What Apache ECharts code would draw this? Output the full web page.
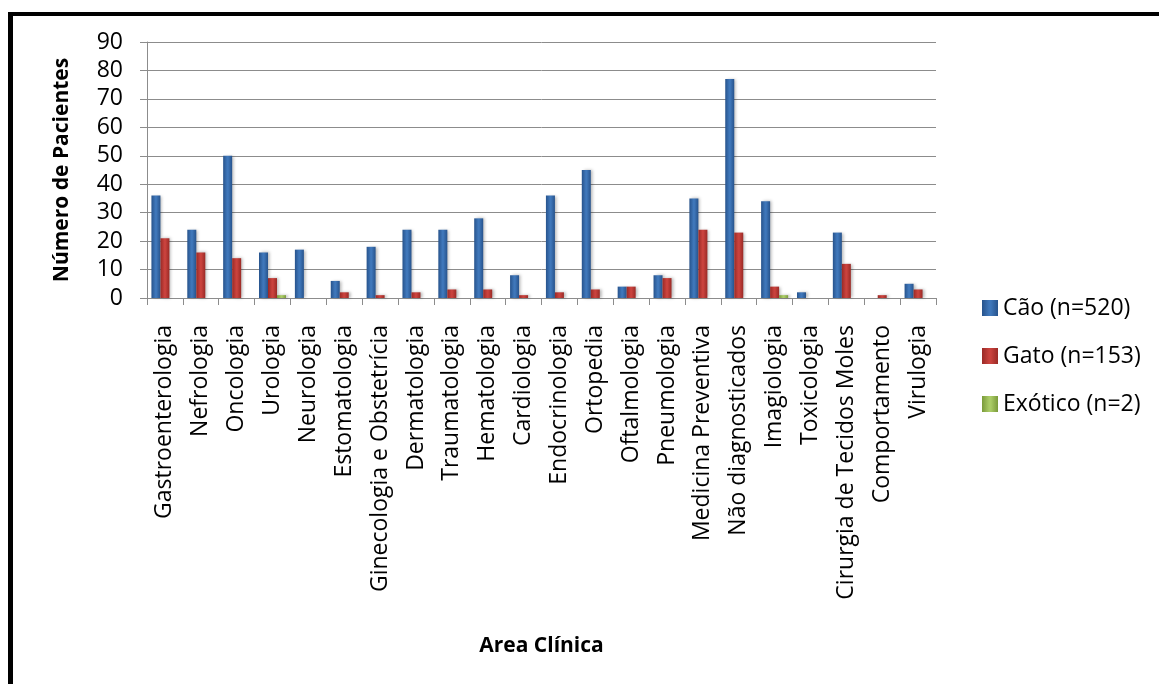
<!DOCTYPE html>
<html>
<head>
<meta charset="utf-8">
<script src="https://cdn.jsdelivr.net/npm/echarts@6/dist/echarts.min.js"></script>
<style>
  html, body { margin: 0; padding: 0; background: #ffffff; }
  #chart { width: 1159px; height: 684px; }
</style>
</head>
<body>
<div id="chart"></div>
<script>
// Clinical areas (x axis)
const categories = [
  'Gastroenterologia', 'Nefrologia', 'Oncologia', 'Urologia', 'Neurologia',
  'Estomatologia', 'Ginecologia e Obstetrícia', 'Dermatologia', 'Traumatologia',
  'Hematologia', 'Cardiologia', 'Endocrinologia', 'Ortopedia', 'Oftalmologia',
  'Pneumologia', 'Medicina Preventiva', 'Não diagnosticados', 'Imagiologia',
  'Toxicologia', 'Cirurgia de Tecidos Moles', 'Comportamento', 'Virulogia'
];

// Patients per clinical area, by species
const caoValues     = [36, 24, 50, 16, 17, 6, 18, 24, 24, 28, 8, 36, 45, 4, 8, 35, 77, 34, 2, 23, 0, 5];
const gatoValues    = [21, 16, 14, 7, 0, 2, 1, 2, 3, 3, 1, 2, 3, 4, 7, 24, 23, 4, 0, 12, 1, 3];
const exoticoValues = [0, 0, 0, 1, 0, 0, 0, 0, 0, 0, 0, 0, 0, 0, 0, 0, 0, 1, 0, 0, 0, 0];

const seriesNames = ['Cão (n=520)', 'Gato (n=153)', 'Exótico (n=2)'];

const FONT = '"Open Sans", "DejaVu Sans", sans-serif';

// Bevelled column fill: darker edges, lighter middle
function bevel(edge, mid) {
  return new echarts.graphic.LinearGradient(0, 0, 1, 0, [
    { offset: 0, color: edge },
    { offset: 0.45, color: mid },
    { offset: 0.55, color: mid },
    { offset: 1, color: edge }
  ]);
}

const fills = [
  bevel('#27538c', '#3f77ba'),
  bevel('#9a2a26', '#c9423d'),
  bevel('#7a9a3a', '#aacb66')
];

const chart = echarts.init(document.getElementById('chart'), null, { renderer: 'canvas' });

const barStyle = (i) => ({
  color: fills[i],
  shadowColor: 'rgba(0,0,0,0.28)',
  shadowBlur: 3,
  shadowOffsetX: 2,
  shadowOffsetY: 0
});

chart.setOption({
  backgroundColor: '#ffffff',
  animation: false,
  graphic: [
    { type: 'rect', shape: { x: 8, y: 12, width: 1151, height: 4 }, style: { fill: '#000' } },
    { type: 'rect', shape: { x: 8, y: 12, width: 5, height: 672 }, style: { fill: '#000' } }
  ],
  grid: { left: 147, top: 42, right: 223, bottom: 386, containLabel: false },
  legend: {
    orient: 'vertical',
    left: 977,
    top: 291,
    itemWidth: 16,
    itemHeight: 16,
    itemGap: 24,
    icon: 'rect',
    textStyle: { fontFamily: FONT, fontSize: 23, color: '#000', lineHeight: 24 },
    data: seriesNames
  },
  xAxis: {
    type: 'category',
    data: categories,
    name: 'Area Clínica',
    nameLocation: 'middle',
    nameGap: 338,
    nameTextStyle: { fontFamily: FONT, fontSize: 21, fontWeight: 'bold', color: '#000' },
    axisLine: { show: true, lineStyle: { color: '#8c8c8c', width: 1 } },
    axisTick: { show: true, length: 7, alignWithLabel: false, interval: 0, lineStyle: { color: '#8c8c8c' } },
    axisLabel: {
      interval: 0,
      rotate: 90,
      margin: 27,
      fontFamily: FONT,
      fontSize: 23,
      color: '#000'
    },
    splitLine: { show: false }
  },
  yAxis: {
    type: 'value',
    min: 0,
    max: 90,
    interval: 10,
    name: 'Número de Pacientes',
    nameLocation: 'middle',
    nameRotate: 90,
    nameGap: 74,
    nameTextStyle: { fontFamily: FONT, fontSize: 21, fontWeight: 'bold', color: '#000' },
    axisLine: { show: true, lineStyle: { color: '#8c8c8c', width: 1 } },
    axisTick: { show: true, length: 7, inside: false, lineStyle: { color: '#8c8c8c' } },
    axisLabel: { margin: 24, fontFamily: FONT, fontSize: 23, color: '#000' },
    splitLine: { show: true, lineStyle: { color: '#8c8c8c', width: 1 } }
  },
  series: [
    { name: seriesNames[0], type: 'bar', data: caoValues, barWidth: 9, barGap: '0%', itemStyle: barStyle(0) },
    { name: seriesNames[1], type: 'bar', data: gatoValues, barWidth: 9, barGap: '0%', itemStyle: barStyle(1) },
    { name: seriesNames[2], type: 'bar', data: exoticoValues, barWidth: 9, barGap: '0%', itemStyle: barStyle(2) }
  ]
});
</script>
</body>
</html>
